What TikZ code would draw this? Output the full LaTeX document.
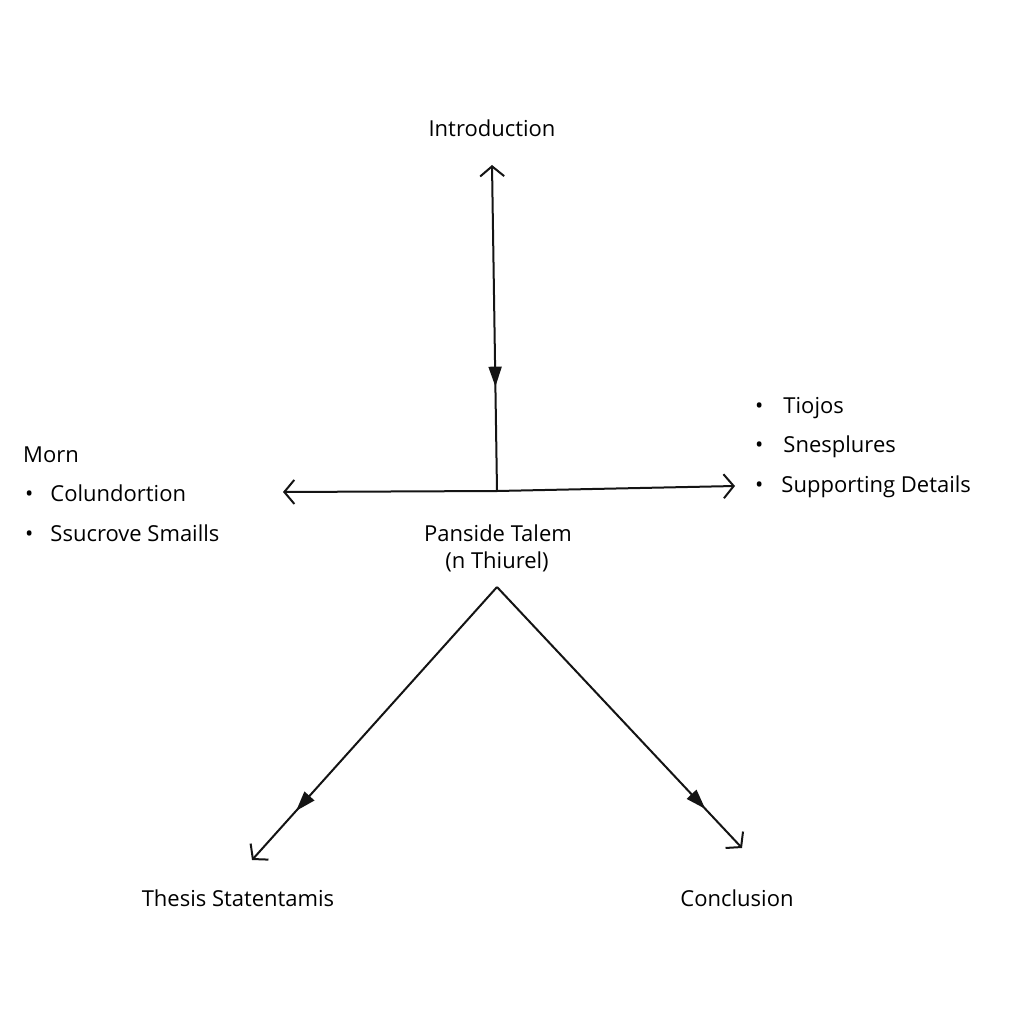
\documentclass[tikz,border=0pt]{standalone}
\usepackage{fontspec}
\setmainfont{Open Sans}
\usetikzlibrary{arrows.meta,decorations.markings}
\begin{document}
\begin{tikzpicture}[x=1pt,y=-1pt,
  lbl/.style={font=\fontsize{22}{26}\selectfont, inner sep=0pt, text=black},
  lbll/.style={lbl, anchor=west},
  conn/.style={line width=2pt, black!92},
  openhead/.style={-{Straight Barb[length=10pt,width=24pt,line width=2pt]}},
  openstart/.style={{Straight Barb[length=10pt,width=24pt,line width=2pt]}-},
  midhead/.style={postaction={decorate}, decoration={markings,
     mark=at position #1 with {\arrow{Triangle[length=20pt,width=13pt]}}}}
]
\useasboundingbox (0,0) rectangle (1024,1024);
\fill[white] (0,0) rectangle (1024,1024);

% labels
\node[lbl] (intro) at (492,128) {Introduction};
\node[lbl] (mid1) at (498,533) {Panside Talem};
\node[lbl] (mid2) at (497,562) {(n Thiurel)};
\node[lbl] (thesis) at (238,898) {Thesis Statentamis};
\node[lbl] (concl) at (737,898) {Conclusion};

\node[lbll] (morn) at (23,455) {Morn};
\node[lbll] (lb1) at (25,493) {\textbullet\hspace{17pt}Colundortion};
\node[lbll] (lb2) at (25,533) {\textbullet\hspace{17pt}Ssucrove Smaills};

\node[lbll] (rb1) at (755,408) {\textbullet\hspace{20pt}Tiojos};
\node[lbll] (rb2) at (755,447) {\textbullet\hspace{20pt}Snesplures};
\node[lbll] (rb3) at (755,487) {\textbullet\hspace{18pt}Supporting Details};

% coordinates
\coordinate (vtop) at (492,165);
\coordinate (junc) at (497,491);
\coordinate (hleft) at (283,492);
\coordinate (hright) at (735,486);
\coordinate (apex) at (497,587);
\coordinate (ll) at (252,860);
\coordinate (lr) at (742,848);

% connectors
\draw[conn, openstart, midhead=0.68] (vtop) -- (junc);
\draw[conn, openstart] (hleft) -- (junc);
\draw[conn, openhead] (junc) -- (hright);
\draw[conn, openhead, midhead=0.82] (apex) -- (ll);
\draw[conn, openhead, midhead=0.85] (apex) -- (lr);
\end{tikzpicture}
\end{document}
